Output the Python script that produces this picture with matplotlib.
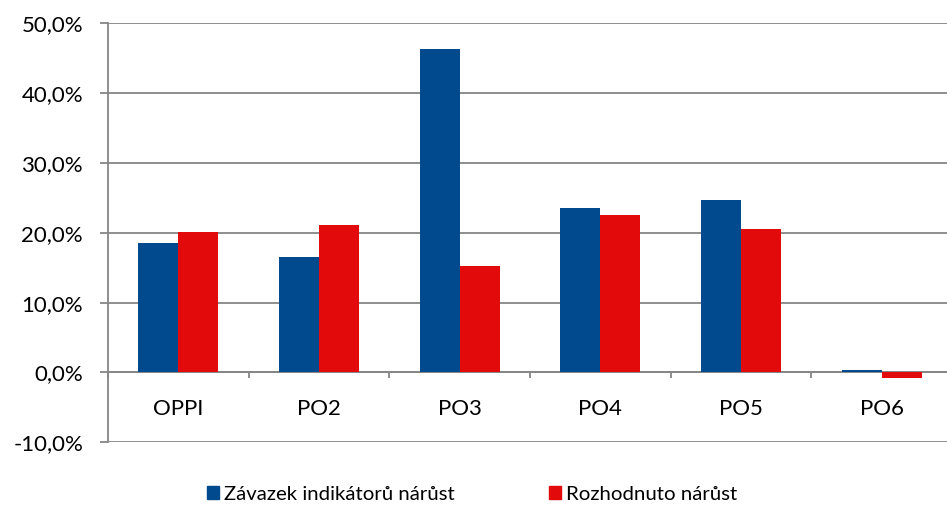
import matplotlib
matplotlib.use("Agg")
import matplotlib.pyplot as plt
from matplotlib.ticker import FuncFormatter, FixedLocator
from matplotlib.patches import Patch
import numpy as np

categories = ["OPPI", "PO2", "PO3", "PO4", "PO5", "PO6"]
zavazek = [18.6, 16.6, 46.3, 23.5, 24.7, 0.3]
rozhodnuto = [20.1, 21.1, 15.2, 22.5, 20.6, -0.75]
series_names = ["Závazek indikátorů nárůst", "Rozhodnuto nárůst"]
yticks = [-10, 0, 10, 20, 30, 40, 50]

BLUE = "#004A8D"
RED = "#E20A0B"
GRID = "#868686"

plt.rcParams['font.family'] = ['Lato', 'DejaVu Sans']

fig = plt.figure(figsize=(9.47, 5.05), dpi=100)
ax = fig.add_axes([108/947, 1-442.3/505, 844/947, (442.3-23.3)/505])

x = np.arange(len(categories))
w = 0.285
ax.bar(x - w/2, zavazek, w, color=BLUE, zorder=3)
ax.bar(x + w/2, rozhodnuto, w, color=RED, zorder=3)

ax.set_xlim(-0.5, len(categories) - 0.5)
ax.set_ylim(-10, 50)
ax.set_yticks(yticks)
ax.yaxis.set_major_formatter(FuncFormatter(lambda v, p: f"{v:.1f}%".replace('.', ',')))
ax.grid(axis='y', color=GRID, linewidth=1.3, zorder=1)
ax.tick_params(axis='y', length=6, width=1.3, color=GRID, pad=12, labelsize=16, labelcolor='black')

for s in ['top', 'right']:
    ax.spines[s].set_visible(False)
ax.spines['left'].set_color(GRID)
ax.spines['left'].set_linewidth(1.3)
ax.spines['bottom'].set_position(('data', 0))
ax.spines['bottom'].set_color(GRID)
ax.spines['bottom'].set_linewidth(1.3)
ax.spines['bottom'].set_zorder(2.5)

ax.set_xticks(x)
ax.set_xticklabels(categories)
ax.xaxis.set_minor_locator(FixedLocator(np.arange(-0.5, len(categories), 1.0)))
ax.tick_params(axis='x', which='major', length=0, pad=19, labelsize=16)
ax.tick_params(axis='x', which='minor', length=4, width=1.3, color=GRID, direction='out')

handles = [Patch(color=BLUE), Patch(color=RED)]
fig.legend(handles, series_names, loc='center', bbox_to_anchor=(472/947, 1-494/505),
           ncol=2, frameon=False, fontsize=14.7, handlelength=0.6, handleheight=0.6,
           handletextpad=0.25, columnspacing=4.6, borderpad=0)

fig.savefig("out.png", dpi=100)
